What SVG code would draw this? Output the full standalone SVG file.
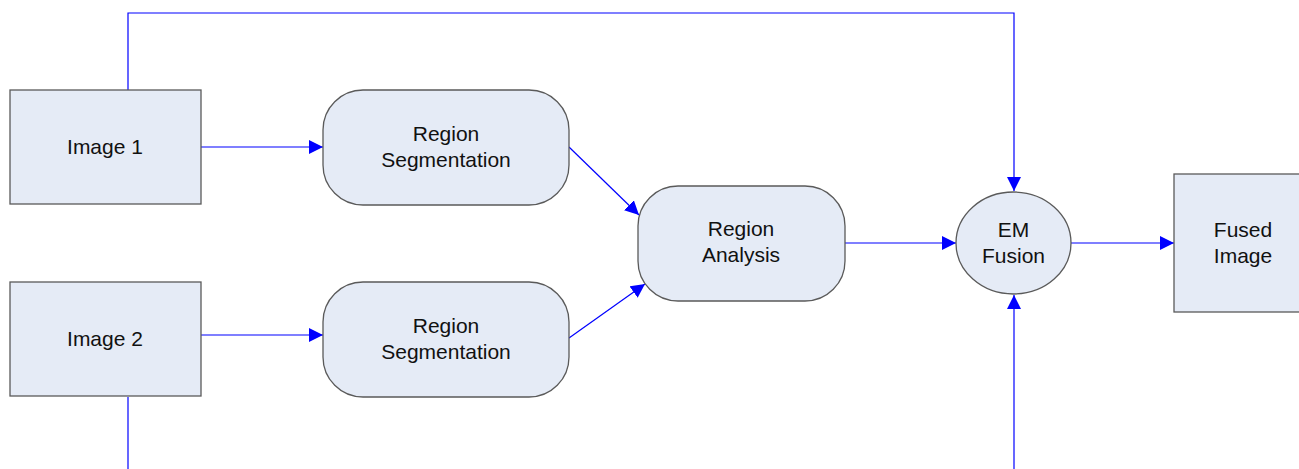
<svg xmlns="http://www.w3.org/2000/svg" width="1299" height="469" viewBox="0 0 1299 469">
<style>
.node{fill:#E5EBF6;stroke:#5A5A5A;stroke-width:1.3}
.lbl{font-family:"Liberation Sans",Arial,sans-serif;font-size:21px;fill:#111;text-anchor:middle}
.con{fill:none;stroke:#0000FF;stroke-width:1.2}
</style>
<defs>
<marker id="arr" markerUnits="userSpaceOnUse" markerWidth="16" markerHeight="16" viewBox="0 0 16 16" refX="14" refY="7" orient="auto">
<path d="M0,0 L14,7 L0,14 Z" fill="#0000FF"/>
</marker>
</defs>
<rect width="1299" height="469" fill="#FFFFFF"/>
<g id="connectors">
<path class="con" d="M128,90 V13 H1014 V191" marker-end="url(#arr)"/>
<path class="con" d="M128,397 V469"/>
<path class="con" d="M1014,469 V295" marker-end="url(#arr)"/>
<path class="con" d="M201,147 H323" marker-end="url(#arr)"/>
<path class="con" d="M201,335 H323" marker-end="url(#arr)"/>
<path class="con" d="M569,147 L639,215" marker-end="url(#arr)"/>
<path class="con" d="M569,338 L645,284" marker-end="url(#arr)"/>
<path class="con" d="M845,243 H956" marker-end="url(#arr)"/>
<path class="con" d="M1071,243 H1174" marker-end="url(#arr)"/>
</g>
<g id="image1">
<rect class="node" x="10" y="90" width="191" height="114"/>
<text class="lbl" x="105" y="154">Image 1</text>
</g>
<g id="image2">
<rect class="node" x="10" y="282" width="191" height="114"/>
<text class="lbl" x="105" y="346">Image 2</text>
</g>
<g id="seg1">
<rect class="node" x="323" y="90" width="246" height="115" rx="40" ry="40"/>
<text class="lbl" x="446" y="141">Region</text>
<text class="lbl" x="446" y="167">Segmentation</text>
</g>
<g id="seg2">
<rect class="node" x="323" y="282" width="246" height="115" rx="40" ry="40"/>
<text class="lbl" x="446" y="333">Region</text>
<text class="lbl" x="446" y="359">Segmentation</text>
</g>
<g id="analysis">
<rect class="node" x="638" y="186" width="207" height="115" rx="40" ry="40"/>
<text class="lbl" x="741" y="236">Region</text>
<text class="lbl" x="741" y="262">Analysis</text>
</g>
<g id="emfusion">
<ellipse class="node" cx="1013.5" cy="243" rx="57.5" ry="51"/>
<text class="lbl" x="1013.5" y="237">EM</text>
<text class="lbl" x="1013.5" y="263">Fusion</text>
</g>
<g id="fused">
<rect class="node" x="1174" y="174" width="130" height="138"/>
<text class="lbl" x="1243" y="237">Fused</text>
<text class="lbl" x="1243" y="263">Image</text>
</g>
</svg>
